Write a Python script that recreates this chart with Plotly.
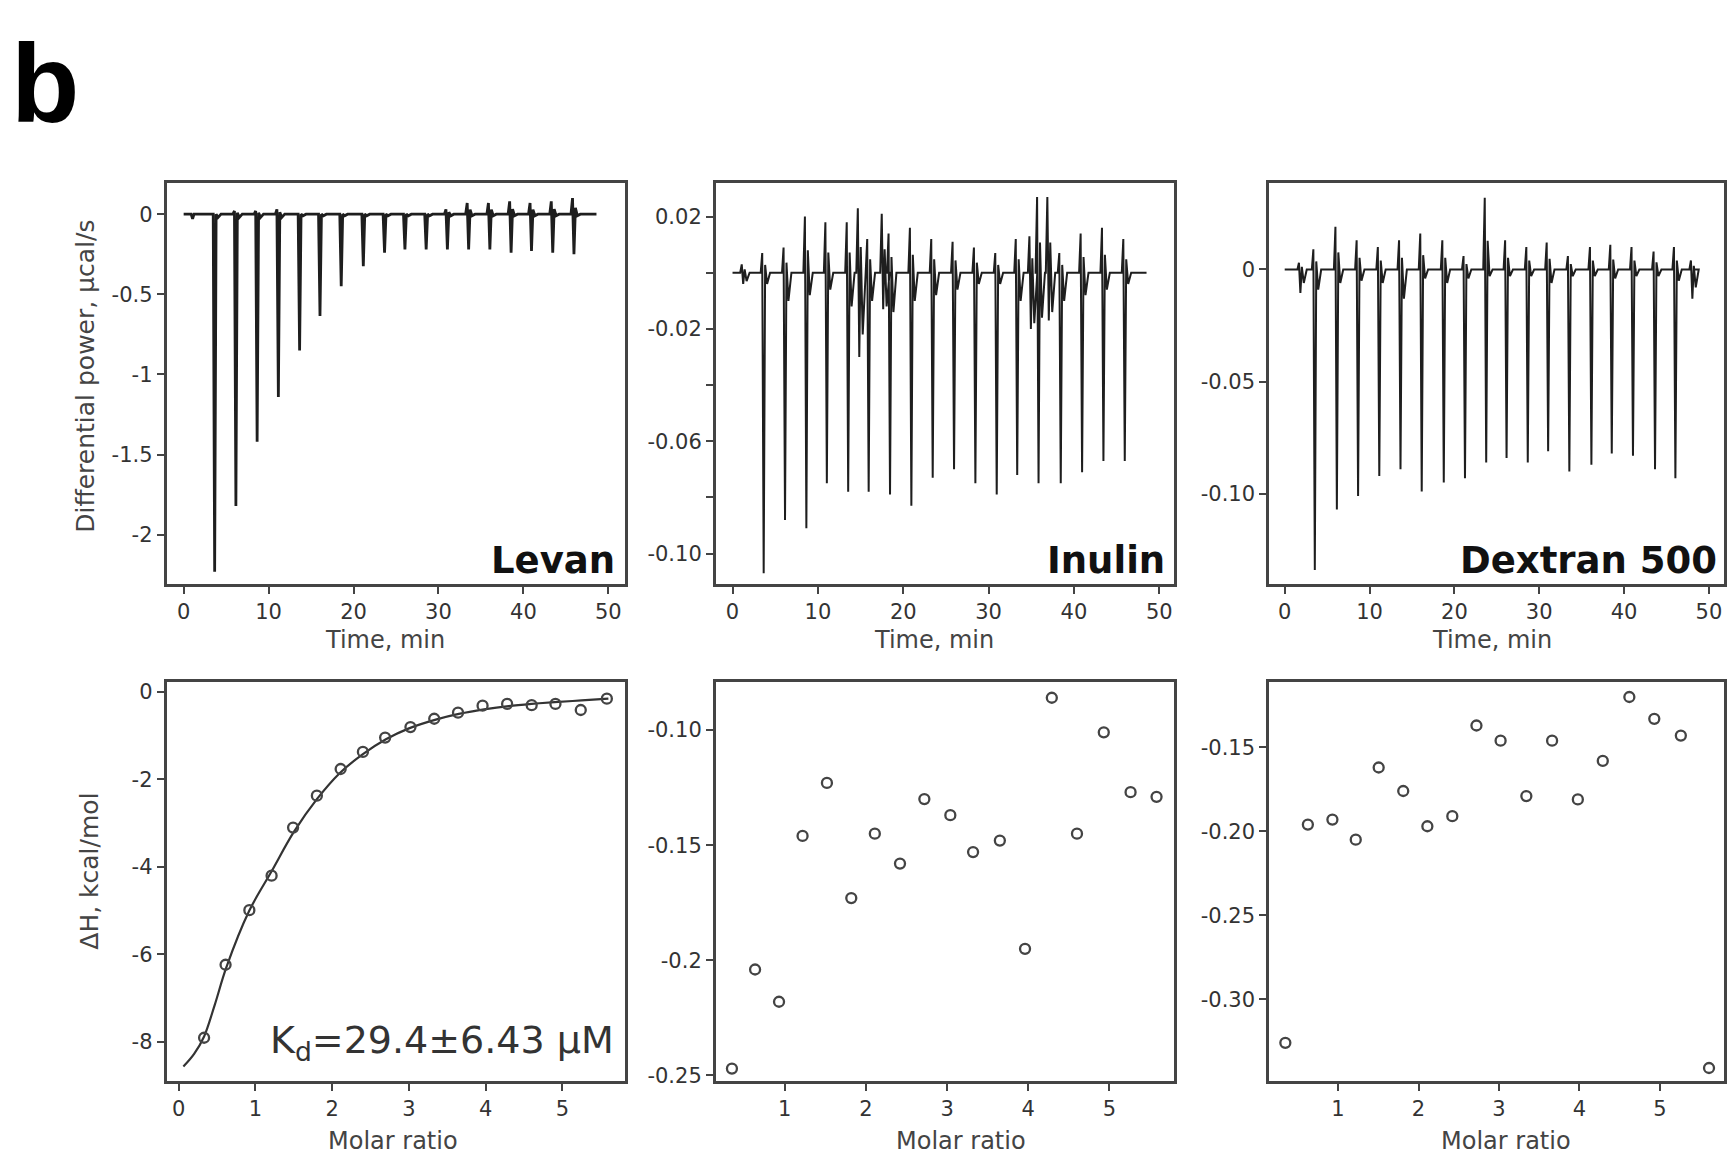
import plotly.graph_objects as go

W, H = 1731, 1161

# ---- thermograms (top row) ----
# injection time (min), lowest point, highest blip, small dip after the spike
levan_t = [1.0, 3.6, 6.1, 8.6, 11.1, 13.6, 16.0, 18.5, 21.1, 23.6, 26.0, 28.5, 31.0, 33.5, 36.0, 38.5, 40.9, 43.4, 45.9]
levan_down = [-0.03, -2.23, -1.82, -1.42, -1.14, -0.85, -0.635, -0.45, -0.325, -0.24, -0.22, -0.22, -0.22, -0.22, -0.22, -0.24, -0.23, -0.24, -0.25]
levan_up = [0.0, 0.0, 0.02, 0.02, 0.03, 0.0, 0.0, 0.0, 0.0, 0.0, 0.0, 0.0, 0.03, 0.07, 0.07, 0.08, 0.07, 0.08, 0.10]
levan_dip = [0.0, -0.02, -0.02, -0.02, -0.02, -0.01, -0.01, -0.01, -0.01, -0.01, -0.01, -0.01, -0.01, -0.01, -0.01, -0.01, -0.01, -0.01, -0.01]

inulin_t = [1.2, 3.6, 6.1, 8.6, 11.0, 13.5, 14.8, 15.9, 17.6, 18.4, 20.9, 23.4, 25.9, 28.4, 30.9, 33.3, 34.9, 35.8, 37.0, 38.4, 40.9, 43.4, 45.9]
inulin_down = [-0.004, -0.107, -0.088, -0.091, -0.075, -0.078, -0.030, -0.078, -0.013, -0.079, -0.083, -0.073, -0.070, -0.075, -0.079, -0.072, -0.020, -0.075, -0.017, -0.075, -0.071, -0.067, -0.067]
inulin_up = [0.003, 0.007, 0.009, 0.020, 0.018, 0.018, 0.023, 0.012, 0.021, 0.014, 0.016, 0.012, 0.011, 0.009, 0.007, 0.012, 0.013, 0.027, 0.027, 0.007, 0.014, 0.016, 0.012]
inulin_dip = [-0.003, -0.004, -0.010, -0.008, -0.006, -0.012, -0.022, -0.010, -0.012, -0.014, -0.010, -0.008, -0.006, -0.004, -0.004, -0.010, -0.018, -0.016, -0.014, -0.010, -0.008, -0.006, -0.004]

dextran_t = [1.8, 3.5, 6.1, 8.6, 11.1, 13.6, 16.1, 18.7, 21.2, 23.7, 26.1, 28.6, 31.0, 33.5, 36.1, 38.5, 41.0, 43.6, 46.0, 48.0]
dextran_down = [-0.0105, -0.134, -0.107, -0.101, -0.092, -0.089, -0.099, -0.095, -0.093, -0.086, -0.084, -0.086, -0.081, -0.090, -0.087, -0.082, -0.083, -0.089, -0.093, -0.013]
dextran_up = [0.003, 0.009, 0.019, 0.013, 0.010, 0.013, 0.016, 0.013, 0.006, 0.032, 0.013, 0.010, 0.012, 0.006, 0.010, 0.011, 0.010, 0.008, 0.010, 0.004]
dextran_dip = [-0.006, -0.009, -0.006, -0.005, -0.006, -0.013, -0.004, -0.006, -0.004, -0.003, -0.003, -0.003, -0.006, -0.003, -0.003, -0.004, -0.003, -0.003, -0.005, -0.008]

# ---- integrated heats (bottom row) ----
levan_ratio = [0.33, 0.61, 0.92, 1.21, 1.49, 1.80, 2.11, 2.40, 2.69, 3.02, 3.33, 3.64, 3.96, 4.28, 4.60, 4.91, 5.24, 5.58]
levan_dh = [-7.91, -6.24, -4.99, -4.20, -3.10, -2.37, -1.76, -1.37, -1.04, -0.80, -0.61, -0.47, -0.31, -0.27, -0.30, -0.27, -0.41, -0.15]
levan_fit_x = [0.06, 0.2, 0.33, 0.47, 0.62, 0.92, 1.21, 1.5, 1.8, 2.1, 2.4, 2.7, 3.0, 3.35, 3.65, 4.0, 4.3, 4.6, 4.9, 5.25, 5.6]
levan_fit_y = [-8.57, -8.28, -7.88, -7.15, -6.3, -5.0, -4.1, -3.2, -2.45, -1.85, -1.42, -1.08, -0.83, -0.63, -0.5, -0.39, -0.32, -0.27, -0.23, -0.19, -0.15]

inulin_ratio = [0.35, 0.635, 0.93, 1.22, 1.52, 1.82, 2.11, 2.42, 2.72, 3.04, 3.32, 3.65, 3.96, 4.29, 4.60, 4.93, 5.26, 5.58]
inulin_dh = [-0.247, -0.204, -0.218, -0.146, -0.123, -0.173, -0.145, -0.158, -0.130, -0.137, -0.153, -0.148, -0.195, -0.086, -0.145, -0.101, -0.127, -0.129]

dextran_ratio = [0.345, 0.625, 0.93, 1.22, 1.505, 1.81, 2.11, 2.42, 2.72, 3.02, 3.34, 3.66, 3.98, 4.29, 4.62, 4.93, 5.26, 5.61]
dextran_dh = [-0.326, -0.196, -0.193, -0.205, -0.162, -0.176, -0.197, -0.191, -0.137, -0.146, -0.179, -0.146, -0.181, -0.158, -0.120, -0.133, -0.143, -0.341]


def thermo(times, downs, ups, dips, t_end):
    # baseline with a sharp spike at every injection
    xs, ys = [0.0], [0.0]
    for t, d, u, w in zip(times, downs, ups, dips):
        xs += [t - 0.3, t - 0.12, t + 0.05, t + 0.22, t + 0.45, t + 0.8]
        ys += [0.0, u, d, u * 0.4, w, 0.0]
    xs.append(t_end)
    ys.append(0.0)
    return xs, ys


INK = "#1e1e1e"
TICK = "#333333"
FRAME = "#444444"
FONT = "DejaVu Sans"

fig = go.Figure()

for i, (tt, dd, uu, ww, lw, tend) in enumerate([
        (levan_t, levan_down, levan_up, levan_dip, 2.8, 48.6),
        (inulin_t, inulin_down, inulin_up, inulin_dip, 2.0, 48.5),
        (dextran_t, dextran_down, dextran_up, dextran_dip, 2.0, 48.3)]):
    xs, ys = thermo(tt, dd, uu, ww, tend)
    n = "" if i == 0 else str(i + 1)
    fig.add_trace(go.Scatter(x=xs, y=ys, mode="lines", line=dict(color=INK, width=lw),
                             xaxis="x" + n, yaxis="y" + n))

fig.add_trace(go.Scatter(x=levan_fit_x, y=levan_fit_y, mode="lines", line=dict(color="#333333", width=2.2, shape="spline"),
                         xaxis="x4", yaxis="y4"))
for k, (rx, ry) in enumerate([(levan_ratio, levan_dh), (inulin_ratio, inulin_dh), (dextran_ratio, dextran_dh)]):
    n = str(k + 4)
    fig.add_trace(go.Scatter(x=rx, y=ry, mode="markers",
                             marker=dict(symbol="circle-open", size=10, color="#444444", line=dict(width=2.3, color="#444444")),
                             xaxis="x" + n, yaxis="y" + n))

# panel boxes in pixels: (left, right, top, bottom)
cols = [(166.5, 624.5), (715.7, 1173.6), (1269.0, 1723.5)]
rows = [(183.0, 587.0), (685.0, 1087.0)]

xranges = [[-2.02, 51.9], [-1.97, 51.67], [-1.85, 51.72], [-0.16, 5.81], [0.15, 5.79], [0.142, 5.79]]
yranges = [[-2.31, 0.195], [-0.111, 0.032], [-0.1404, 0.0386], [-8.91, 0.234], [-0.2526, -0.0791], [-0.349, -0.111]]

time_ticks = [0, 10, 20, 30, 40, 50]
ratio_ticks4 = [0, 1, 2, 3, 4, 5]
ratio_ticks = [1, 2, 3, 4, 5]
yticks = [
    ([0, -0.5, -1, -1.5, -2], ["0", "-0.5", "-1", "-1.5", "-2"]),
    ([0.02, -0.02, -0.06, -0.10], ["0.02", "-0.02", "-0.06", "-0.10"]),
    ([0, -0.05, -0.10], ["0", "-0.05", "-0.10"]),
    ([0, -2, -4, -6, -8], ["0", "-2", "-4", "-6", "-8"]),
    ([-0.10, -0.15, -0.2, -0.25], ["-0.10", "-0.15", "-0.2", "-0.25"]),
    ([-0.15, -0.20, -0.25, -0.30], ["-0.15", "-0.20", "-0.25", "-0.30"]),
]
inulin_minor = [0.0, -0.04, -0.08]
xticks = [time_ticks, time_ticks, time_ticks, ratio_ticks4, ratio_ticks, ratio_ticks]

layout = {}
for p in range(6):
    r, c = divmod(p, 3)
    x0, x1 = cols[c]
    y0, y1 = rows[r]
    n = "" if p == 0 else str(p + 1)
    common = dict(showline=True, mirror=True, linecolor=FRAME, linewidth=2.5, showgrid=False, zeroline=False,
                  ticks="outside", ticklen=7, tickwidth=2, tickcolor=FRAME,
                  tickfont=dict(family=FONT, size=21, color=TICK))
    layout["xaxis" + n] = dict(common, domain=[x0 / W, x1 / W], range=xranges[p], anchor="y" + n,
                               tickvals=xticks[p], ticktext=[str(v) for v in xticks[p]])
    layout["yaxis" + n] = dict(common, domain=[1 - y1 / H, 1 - y0 / H], range=yranges[p], anchor="x" + n,
                               tickvals=yticks[p][0], ticktext=yticks[p][1])
layout["yaxis2"]["minor"] = dict(tickvals=inulin_minor, ticks="outside", ticklen=7, tickwidth=2, tickcolor=FRAME, showgrid=False)

ann = []
def px_note(text, x, y, size, xanchor="center", yanchor="middle", angle=0, color="#444444", family=FONT):
    ann.append(dict(text=text, x=x / W, y=1 - y / H, xref="paper", yref="paper", showarrow=False,
                    xanchor=xanchor, yanchor=yanchor, textangle=angle,
                    font=dict(family=family, size=size, color=color)))

px_note("<b>b</b>", 9, 18, 112, xanchor="left", yanchor="top", color="#000000", family="Liberation Sans")
for name, right in [("Levan", 617), ("Inulin", 1167), ("Dextran 500", 1719)]:
    px_note("<b>" + name + "</b>", right, 587, 37, xanchor="right", yanchor="bottom", color="#111111")
px_note("K<sub>d</sub>=29.4±6.43 µM", 616, 1074, 38, xanchor="right", yanchor="bottom", color="#333333")
for cx in [385, 934, 1492]:
    px_note("Time, min", cx, 643, 24)
for cx in [393, 961, 1506]:
    px_note("Molar ratio", cx, 1147, 24)
px_note("Differential power, µcal/s", 86, 378, 25, angle=-90)
px_note("ΔH, kcal/mol", 90, 876, 25, angle=-90)

fig.update_layout(**layout)
fig.update_layout(width=W, height=H, margin=dict(l=0, r=0, t=0, b=0), showlegend=False,
                  plot_bgcolor="white", paper_bgcolor="white", annotations=ann, hovermode=False)

fig.write_html("out.html", config={"displayModeBar": False},
               post_script="document.body.style.margin='0';document.body.style.overflow='hidden';")
